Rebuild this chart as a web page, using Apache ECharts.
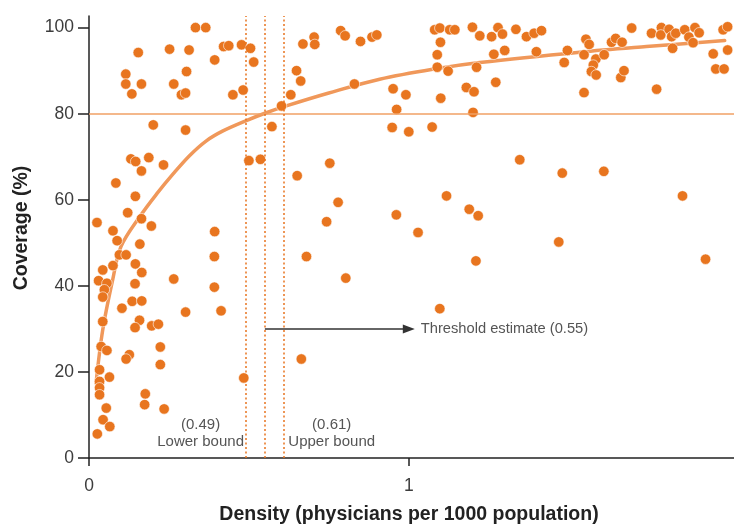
<!DOCTYPE html>
<html>
<head>
<meta charset="utf-8">
<script src="https://cdn.jsdelivr.net/npm/echarts@6/dist/echarts.min.js"></script>
<style>
html,body{margin:0;padding:0;background:#fff;}
#chart{width:734px;height:529px;}
</style>
</head>
<body>
<div id="chart"></div>
<script>
// ---- Data ----
const densityX = [
  0.025,0.075,0.088,0.084,0.115,0.115,0.134,0.154,0.164,0.201,0.131,0.146,0.164,0.187,0.233,0.145,0.121,0.164,0.195,0.159,
  0.252,0.265,0.305,0.313,0.289,0.302,0.302,0.333,0.365,0.393,0.421,0.437,0.477,0.450,0.482,0.393,
  0.505,0.515,0.500,0.536,0.572,0.602,0.631,0.649,0.662,0.669,0.704,0.706,0.651,0.753,0.779,0.743,0.787,0.801,0.830,0.849,
  0.885,0.900,0.951,0.991,0.962,0.948,1.000,1.073,1.081,1.097,1.099,1.089,1.089,1.123,1.100,1.128,1.144,1.199,1.222,1.212,
  1.180,1.204,1.201,1.118,1.189,1.217,0.961,1.029,
  1.259,1.279,1.293,1.335,1.368,1.392,1.415,1.266,1.300,1.272,1.399,1.496,1.486,1.554,1.564,1.548,1.585,1.577,1.571,1.586,
  1.548,1.611,1.634,1.647,1.667,1.697,1.663,1.673,1.759,1.790,1.788,1.814,1.822,1.835,1.825,1.775,1.863,1.876,1.895,1.908,
  1.889,1.952,1.960,1.986,1.983,1.997,1.997,1.347,1.480,1.610,1.856,1.469,1.928,
  0.680,0.803,1.097,0.664,0.484,1.210,
  0.095,0.116,0.392,0.392,0.413,0.265,0.302,0.145,0.075,0.043,0.165,0.030,0.056,0.048,0.043,0.144,0.135,0.165,0.103,0.043,
  0.158,0.144,0.196,0.217,0.038,0.056,0.126,0.116,0.223,0.223,0.033,0.064,0.033,0.033,0.033,0.176,0.174,0.235,0.026,0.044,
  0.065,0.054
];
const coverageY = [
  54.7,52.8,50.5,63.9,89.2,86.9,84.6,94.2,86.9,77.4,69.5,68.9,66.7,69.8,68.1,60.8,57.0,55.6,53.9,49.7,
  95.0,86.9,89.8,94.8,84.4,84.8,76.2,100,100,92.5,95.6,95.8,96.0,84.4,85.5,52.6,
  95.2,92.0,69.1,69.4,77.0,81.8,84.4,90.0,87.6,96.2,97.8,96.1,65.6,68.5,59.4,54.9,99.3,98.1,86.9,96.8,
  97.8,98.3,85.8,84.4,81.0,76.8,75.8,76.9,99.5,99.9,96.6,93.7,90.8,89.9,83.6,99.5,99.5,100.1,98.1,90.8,
  86.1,85.1,80.3,60.9,57.8,56.3,56.5,52.4,
  97.9,100,98.5,99.6,97.9,98.7,99.3,93.8,94.7,87.3,94.4,94.7,91.9,97.3,96.1,93.7,92.7,91.3,89.8,89.0,
  84.9,93.7,96.6,97.5,96.6,99.9,88.4,90.0,98.7,100,98.3,99.6,97.9,98.7,95.2,85.7,99.5,97.8,100,98.8,
  96.5,93.9,90.4,90.4,99.5,100.2,94.8,69.3,66.2,66.6,60.9,50.2,46.2,
  46.8,41.8,34.7,23.0,18.6,45.8,
  47.2,47.2,46.8,39.7,34.2,41.6,33.9,45.1,44.7,43.7,43.1,41.2,40.6,39.1,37.4,40.5,36.4,36.5,34.8,31.7,
  32.0,30.3,30.7,31.1,25.9,25.0,24.0,23.0,25.8,21.7,20.5,18.8,17.8,16.3,14.7,14.9,12.4,11.4,5.6,8.9,
  7.3,11.6
];
// fitted curve
const curveX = [0.022,0.043,0.074,0.100,0.159,0.211,0.263,0.315,0.367,0.419,0.492,0.550,0.617,0.750,0.909,1.090,1.222,1.535,1.743,1.988];
const curveY = [17.4,29.8,41.4,49.1,56.1,61.3,66.0,70.3,73.7,76.0,78.4,80.1,81.8,84.8,88.0,90.5,91.9,94.3,95.6,97.0];
const coverageTarget = 80;
const lowerBound = 0.49;
const thresholdEstimate = 0.55;
const upperBound = 0.61;
const yTicks = [0,20,40,60,80,100];
const xTicks = [0,1];
const xTickLabels = ['0','1'];
const xTitle = 'Density (physicians per 1000 population)';
const yTitle = 'Coverage (%)';

// ---- Chart ----
const points = densityX.map((x,i)=>[x, coverageY[i]]);
const curve = curveX.map((x,i)=>[x, curveY[i]]);
const FONT = "'Liberation Sans', Arial, sans-serif";
const DOT = '#E8731E';
const chart = echarts.init(document.getElementById('chart'), null, {renderer:'canvas'});
chart.setOption({
  animation:false,
  backgroundColor:'#ffffff',
  grid:{left:89, right:0, top:16, bottom:71, containLabel:false},
  graphic:[
    {type:'text', x:22, y:228, rotation:Math.PI/2, silent:true,
     style:{text:yTitle, fontFamily:FONT, fontWeight:'bold', fontSize:19.5, fill:'#222', align:'center', verticalAlign:'middle'}},
    {type:'text', x:409, y:515, silent:true,
     style:{text:xTitle, fontFamily:FONT, fontWeight:'bold', fontSize:19.5, fill:'#222', align:'center', verticalAlign:'middle'}}
  ],
  xAxis:{
    type:'value', min:0, max:2.017,
    axisLine:{show:true, onZero:false, lineStyle:{color:'#222', width:1.5}},
    axisTick:{show:true, inside:false, length:8, customValues:xTicks, lineStyle:{color:'#222', width:1.5}},
    axisLabel:{show:true, margin:19, customValues:xTicks, fontFamily:FONT, fontSize:17.5, color:'#3c3c3c',
      formatter:(v)=>xTickLabels[xTicks.indexOf(v)] ?? ''},
    splitLine:{show:false}
  },
  yAxis:{
    type:'value', min:0, max:102.7,
    axisLine:{show:true, onZero:false, lineStyle:{color:'#222', width:1.5}},
    axisTick:{show:true, inside:false, length:11, customValues:yTicks, lineStyle:{color:'#222', width:1.5}},
    axisLabel:{show:true, margin:15, customValues:yTicks, fontFamily:FONT, fontSize:17.5, color:'#3c3c3c'},
    splitLine:{show:false}
  },
  series:[
    {
      type:'line', data:curve, smooth:0.35, showSymbol:false, symbol:'none', z:2,
      lineStyle:{color:'#F0985A', width:3.5, cap:'round', join:'round'},
      markLine:{
        silent:true, symbol:'none', animation:false,
        label:{show:false},
        data:[
          {yAxis:coverageTarget, lineStyle:{color:'#F0A064', width:1.5, type:'solid'}},
          {xAxis:lowerBound, lineStyle:{color:DOT, width:1.5, type:[2,2.5]}},
          {xAxis:thresholdEstimate, lineStyle:{color:DOT, width:1.5, type:[2,2.5]}},
          {xAxis:upperBound, lineStyle:{color:DOT, width:1.5, type:[2,2.5]}},
          [
            {coord:[thresholdEstimate,30], symbol:'none'},
            {coord:[1.0,30], symbol:'triangle', symbolSize:[9,12], symbolRotate:-90,
             lineStyle:{color:'#333', width:1.5, type:'solid'},
             label:{show:true, position:'end', distance:12, formatter:'Threshold estimate (' + thresholdEstimate.toFixed(2) + ')',
               fontFamily:FONT, fontSize:14.7, color:'#555'}}
          ]
        ]
      },
      markPoint:{
        silent:true, symbol:'circle', symbolSize:0, animation:false,
        label:{show:true, fontFamily:FONT, fontSize:15, lineHeight:17.5, color:'#555', align:'center', verticalAlign:'middle'},
        data:[
          {coord:[0.349,5.7], label:{formatter:'(' + lowerBound.toFixed(2) + ')\nLower bound'}},
          {coord:[0.759,5.7], label:{formatter:'(' + upperBound.toFixed(2) + ')\nUpper bound'}}
        ]
      }
    },
    {
      type:'scatter', data:points, symbol:'circle', symbolSize:10.5, z:3,
      itemStyle:{color:'#E8751F', opacity:1, borderColor:'#ffffff', borderWidth:0.6}
    }
  ]
});
</script>
</body>
</html>
